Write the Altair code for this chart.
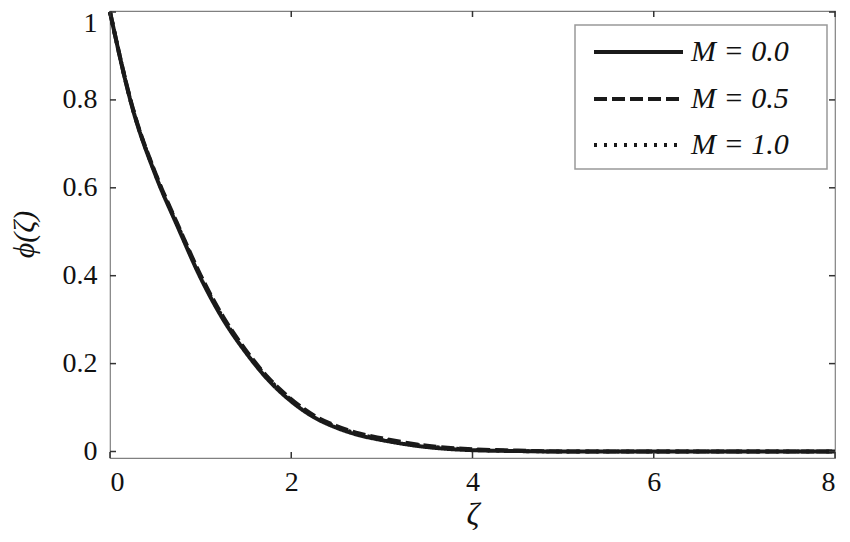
import altair as alt
import pandas as pd

# ---- data ----
zeta = [0, 0.25, 0.5, 0.75, 1.0, 1.25, 1.5, 1.75, 2.0, 2.25, 2.5, 2.75, 3.0, 3.5, 4.0, 4.5, 5.0, 6.0, 7.0, 8.0]
phi_M00 = [1.0, 0.780, 0.630, 0.510, 0.395, 0.300, 0.225, 0.162, 0.114, 0.078, 0.054, 0.037, 0.026, 0.010, 0.003, 0.001, 0.0, 0.0, 0.0, 0.0]
phi_M05 = [1.0, 0.782, 0.634, 0.515, 0.401, 0.306, 0.230, 0.167, 0.119, 0.082, 0.058, 0.041, 0.030, 0.013, 0.005, 0.002, 0.0, 0.0, 0.0, 0.0]
phi_M10 = [1.0, 0.781, 0.632, 0.513, 0.398, 0.303, 0.228, 0.165, 0.117, 0.080, 0.056, 0.039, 0.028, 0.012, 0.004, 0.001, 0.0, 0.0, 0.0, 0.0]
series = ["M = 0.0", "M = 0.5", "M = 1.0"]
x_ticks = [0, 2, 4, 6, 8]
y_ticks = [0, 0.2, 0.4, 0.6, 0.8, 1.0]

rows = []
for name, vals in zip(series, [phi_M00, phi_M05, phi_M10]):
    for z, p in zip(zeta, vals):
        rows.append({"zeta": z, "phi": p, "M": name})
df = pd.DataFrame(rows)

W, H = 725, 447
FONT = "Liberation Serif, Times New Roman, serif"
LINE = "#1a1a1a"
dashes = [[1, 0], [13, 5], [3, 7]]

xs = alt.Scale(domain=[0, 8], nice=False, zero=False)
ys = alt.Scale(domain=[-0.0148, 1.0023], nice=False, zero=False)

lines = alt.Chart(df).mark_line(strokeWidth=4, color=LINE, strokeCap="butt", interpolate="monotone").encode(
    x=alt.X("zeta:Q", scale=xs,
            axis=alt.Axis(values=x_ticks, format="~g", title="ζ", ticks=False, tickSize=0,
                          labelPadding=10, labelFontSize=28, titleFontSize=32,
                          titleFontStyle="italic", titleFontWeight="normal",
                          titleX=W / 2, titleY=56, titleBaseline="middle")),
    y=alt.Y("phi:Q", scale=ys,
            axis=alt.Axis(values=y_ticks, format="~g", title="ϕ(ζ)", ticks=False, tickSize=0,
                          labelPadding=13, labelFontSize=28, titleFontSize=30,
                          titleFontStyle="italic", titleFontWeight="normal",
                          titleAngle=-90, titleX=-86, titleY=223,
                          titleAlign="center", titleBaseline="middle",
                          labelOffset=alt.condition("datum.value == 1", alt.value(11), alt.value(0)))),
    strokeDash=alt.StrokeDash("M:N", scale=alt.Scale(domain=series, range=dashes), legend=None),
    detail="M:N",
)

# inward tick marks on all four sides
xt = pd.DataFrame({"v": x_ticks})
yt = pd.DataFrame({"v": y_ticks})
tick_style = dict(color="#333333", strokeWidth=1.5)
ticks_bottom = alt.Chart(xt).mark_rule(**tick_style).encode(
    x=alt.X("v:Q", scale=xs), y=alt.value(H), y2=alt.value(H - 6))
ticks_top = alt.Chart(xt).mark_rule(**tick_style).encode(
    x=alt.X("v:Q", scale=xs), y=alt.value(0), y2=alt.value(6))
ticks_left = alt.Chart(yt).mark_rule(**tick_style).encode(
    y=alt.Y("v:Q", scale=ys), x=alt.value(0), x2=alt.value(6))
ticks_right = alt.Chart(yt).mark_rule(**tick_style).encode(
    y=alt.Y("v:Q", scale=ys), x=alt.value(W - 6), x2=alt.value(W))

# legend box
LX0, LX1, LY0, LY1 = W - 260, W - 8, 14, 158
one = pd.DataFrame({"a": [0]})
leg_box = alt.Chart(one).mark_rect(fill="white", stroke="#999999", strokeWidth=1.5).encode(
    x=alt.value(LX0), x2=alt.value(LX1), y=alt.value(LY0), y2=alt.value(LY1))

leg_layers = []
row_y = [41, 88, 134]
for name, dash, ry in zip(series, dashes, row_y):
    d = pd.DataFrame({"label": [name]})
    leg_layers.append(alt.Chart(d).mark_rule(strokeWidth=4, color=LINE, strokeDash=dash, strokeCap="butt").encode(
        x=alt.value(LX0 + 19), x2=alt.value(LX0 + 108), y=alt.value(ry)))
    leg_layers.append(alt.Chart(d).mark_text(align="left", baseline="middle", font=FONT, fontSize=30,
                                             fontStyle="italic", color="#111111").encode(
        x=alt.value(LX0 + 116), y=alt.value(ry), text="label:N"))

chart = alt.layer(lines, ticks_bottom, ticks_top, ticks_left, ticks_right, leg_box, *leg_layers).properties(
    width=W, height=H,
    background="white",
    autosize=alt.AutoSizeParams(type="none"),
    padding={"left": 102, "top": 3, "right": 7, "bottom": 76},
).configure_view(stroke="#808080", strokeWidth=1.2).configure_axis(
    domain=False, grid=False, labelFont=FONT, titleFont=FONT, labelColor="#111111", titleColor="#111111"
)

chart.save("out.html", embed_options={"renderer": "svg", "actions": False})
